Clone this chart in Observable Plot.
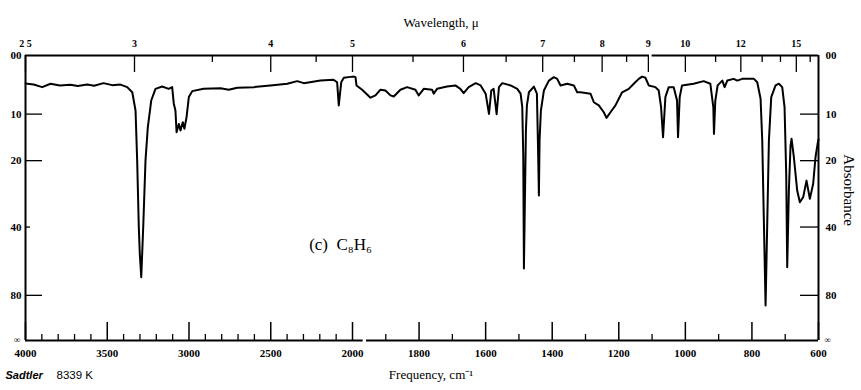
<!DOCTYPE html>
<html><head><meta charset="utf-8">
<script src="https://cdn.jsdelivr.net/npm/d3@7"></script>
<script src="https://cdn.jsdelivr.net/npm/@observablehq/plot@0.6"></script>
<style>
html,body{margin:0;padding:0;background:#fff;}
</style>
</head><body><div id="chart"></div>
<script>
// Spectrum: wavenumber (cm^-1) and transmittance (%)
const wavenumber = [4000,3950,3898,3847,3790,3725,3680,3623,3580,3523,3470,3419,3378,3347,3327,3317,3307,3301,3292,3280,3266,3252,3231,3205,3164,3124,3103,3093,3083,3076,3062,3052,3038,3028,3015,3001,2980,2911,2807,2757,2705,2604,2502,2399,2338,2298,2196,2116,2094,2084,2069,2053,2012,1996,1991,1988,1971,1946,1931,1916,1901,1886,1876,1856,1836,1811,1801,1786,1761,1756,1746,1716,1691,1676,1666,1651,1630,1615,1600,1590,1583,1576,1567,1560,1550,1525,1505,1495,1490,1487,1485,1482,1479,1476,1470,1455,1446,1443,1440,1438,1434,1425,1410,1395,1385,1375,1355,1335,1325,1315,1285,1275,1260,1245,1237,1225,1210,1190,1170,1155,1140,1130,1120,1110,1090,1080,1073,1067,1060,1050,1035,1025,1022,1017,1010,975,945,925,916,914,910,903,889,882,874,855,844,829,794,784,774,769,764,759,754,749,742,729,719,709,702,697,694,689,684,681,674,664,656,646,636,626,616,609,602,600];
const transmittance = [90.2,89.8,88.9,90.1,89.5,89.7,89.3,89.8,89.4,90.3,89.6,89.8,88.9,87.1,80.7,63.2,39.8,30.5,22.2,39.8,63.2,74.8,84.2,88.3,89.1,88.3,88.9,83.1,80.7,73.1,76.0,73.7,76.6,74.3,78.4,85.4,87.5,88.3,88.5,88.0,88.7,88.9,89.5,90.1,91.0,90.3,91.2,91.5,90.6,82.5,90.6,92.2,92.5,92.6,92.4,89.5,88.0,85.2,86.0,88.0,87.7,86.0,85.6,88.0,88.9,88.0,86.0,88.3,88.0,86.6,88.3,89.1,89.5,88.3,86.8,88.9,90.3,89.5,86.6,79.5,87.7,88.3,79.4,88.9,90.3,89.5,88.3,86.6,82.0,65.0,25.3,50.0,73.7,82.5,87.1,89.1,86.6,70.2,50.9,70.2,80.7,87.7,91.2,92.4,91.8,89.5,90.1,89.5,87.1,87.1,86.6,83.6,82.5,80.1,78.1,80.1,82.5,87.1,88.3,90.1,91.8,92.6,92.2,89.5,88.9,87.7,81.9,71.3,85.4,88.9,88.9,84.2,71.3,85.4,89.5,90.1,91.0,90.1,81.9,72.5,84.2,89.5,91.2,88.9,91.2,91.8,91.2,91.8,91.8,90.6,84.8,70.2,41.1,12.3,41.1,70.2,85.4,89.5,90.1,88.9,81.9,58.5,25.7,52.6,68.4,70.8,64.3,52.6,48.5,50.3,56.1,49.7,55.0,64.3,69.5,70.5];

// Frequency axis (bottom)
const freqMajorTicks = [4000,3500,3000,2500,2000,1800,1600,1400,1200,1000,800,600];
const freqMajorLabels = ["4000","3500","3000","2500","2000","1800","1600","1400","1200","1000","800","600"];
const freqMinorTicks = [3900,3800,3700,3600,3400,3300,3200,3100,2900,2800,2700,2600,2400,2300,2200,2100,1900,1700,1500,1300,1100,900,700];

// Wavelength axis (top), microns
const wavelengthMajor = [2.5,3,4,5,6,7,8,9,10,12,15];
const wavelengthLabels = ["2 5","3","4","5","6","7","8","9","10","12","15"];
const wavelengthMinor = [3.5,4.5,5.5,6.5,7.5,8.5,11,13,14,16];

// Absorbance axis (left and right)
const absorbanceTicks = [0,0.1,0.2,0.4,0.8,Infinity];
const absorbanceLabels = ["00","10","20","40","80","∞"];
const absorbanceLongTicksLeft = [0.1,0.2,0.8];
const absorbanceShortTicksLeft = [0.4];
const absorbanceTicksRight = [0.1,0.2,0.4,0.8];

// Annotation
const annotationText = ["(c)  C₈H₆"];
const annotationX = [2073];
const annotationY = [33.7];

const spectrum = wavenumber.map((w, i) => ({w, t: transmittance[i]}));
const absToT = a => 100 * Math.pow(10, -a);
const absRows = absorbanceTicks.map((a, i) => ({t: absToT(a), label: absorbanceLabels[i], inf: a === Infinity}));

const FH = 285; // frame height
const FW = 793; // frame width
const serif = "Liberation Serif, Times New Roman, serif";
const sans = "Liberation Sans, Arial, sans-serif";

const chart = Plot.plot({
  width: 861,
  height: 390,
  marginLeft: 25,
  marginRight: 43,
  marginTop: 55,
  marginBottom: 50,
  style: {fontFamily: serif, background: "white", color: "black", overflow: "visible"},
  x: {type: "linear", domain: [4000, 2000, 600], range: [25, 352, 818], axis: null},
  y: {type: "linear", domain: [0, 100], axis: null},
  marks: [
    // frame
    Plot.ruleX([4000, 600], {y1: 0, y2: 100, stroke: "black", strokeWidth: 2}),
    Plot.ruleY([100], {x1: 4000, x2: 1108, stroke: "black", strokeWidth: 2}),
    Plot.ruleY([100], {x1: 1100, x2: 600, stroke: "black", strokeWidth: 2}),
    Plot.ruleY([0], {x1: 4000, x2: 1968, stroke: "black", strokeWidth: 2}),
    Plot.ruleY([0], {x1: 1958, x2: 600, stroke: "black", strokeWidth: 2}),
    // bottom ticks
    Plot.ruleX(freqMajorTicks, {x: d => d, insetTop: FH - 18, stroke: "black", strokeWidth: 1.5}),
    Plot.ruleX(freqMinorTicks, {x: d => d, insetTop: FH - 6, stroke: "black", strokeWidth: 1.3}),
    // top ticks
    Plot.ruleX(wavelengthMajor, {x: d => 10000 / d, insetBottom: FH - 17, stroke: "black", strokeWidth: 1.3}),
    Plot.ruleX(wavelengthMinor, {x: d => 10000 / d, insetBottom: FH - 7, stroke: "black", strokeWidth: 1.3}),
    // left ticks
    Plot.ruleY(absorbanceLongTicksLeft, {y: absToT, insetRight: FW - 17, stroke: "black", strokeWidth: 1.3}),
    Plot.ruleY(absorbanceShortTicksLeft, {y: absToT, insetRight: FW - 5, stroke: "black", strokeWidth: 1.3}),
    // right ticks
    Plot.ruleY(absorbanceTicksRight, {y: absToT, insetLeft: FW - 18, stroke: "black", strokeWidth: 1.3}),
    // spectrum
    Plot.line(spectrum, {x: "w", y: "t", stroke: "black", strokeWidth: 2, strokeLinejoin: "round"}),
    // bottom labels
    Plot.text(freqMajorTicks, {x: d => d, y: 0, text: (d, i) => freqMajorLabels[i], dy: 13, fontSize: 11, fontWeight: "bold", fontFamily: serif}),
    // top labels
    Plot.text(wavelengthMajor, {x: d => 10000 / d, y: 100, text: (d, i) => wavelengthLabels[i], dy: -12, fontSize: 10, fontWeight: "bold", fontFamily: serif}),
    // left labels
    Plot.text(absRows.filter(d => !d.inf), {x: 4000, y: "t", text: "label", dx: -4, textAnchor: "end", fontSize: 11, fontWeight: "bold", fontFamily: serif}),
    Plot.text(absRows.filter(d => d.inf), {x: 4000, y: "t", text: "label", dx: -5, textAnchor: "end", fontSize: 9, fontWeight: "bold", fontFamily: serif}),
    // right labels
    Plot.text(absRows.filter(d => !d.inf), {x: 600, y: "t", text: "label", dx: 7, textAnchor: "start", fontSize: 11, fontWeight: "bold", fontFamily: serif}),
    Plot.text(absRows.filter(d => d.inf), {x: 600, y: "t", text: "label", dx: 6, textAnchor: "start", fontSize: 9, fontWeight: "bold", fontFamily: serif}),
    // titles
    Plot.text(["Wavelength, μ"], {frameAnchor: "top", dx: 19, dy: -38, fontSize: 13, fontFamily: serif}),
    Plot.text(["Frequency, cm⁻¹"], {frameAnchor: "bottom", dx: 9, dy: 38, fontSize: 13, fontFamily: serif}),
    Plot.text(["Absorbance"], {frameAnchor: "right", dx: 30, dy: 28, rotate: 90, fontSize: 15, fontFamily: serif}),
    Plot.text(["Sadtler"], {frameAnchor: "bottom-left", dx: -20, dy: 38, textAnchor: "start", fontSize: 11, fontWeight: "bold", fontStyle: "italic", fontFamily: sans}),
    Plot.text(["8339 K"], {frameAnchor: "bottom-left", dx: 31, dy: 38, textAnchor: "start", fontSize: 11.5, fontFamily: sans}),
    // annotation
    Plot.text(annotationText, {x: (d, i) => annotationX[i], y: (d, i) => annotationY[i], fontSize: 17, fontFamily: serif})
  ]
});
document.getElementById("chart").appendChild(chart);
</script>
</body></html>
